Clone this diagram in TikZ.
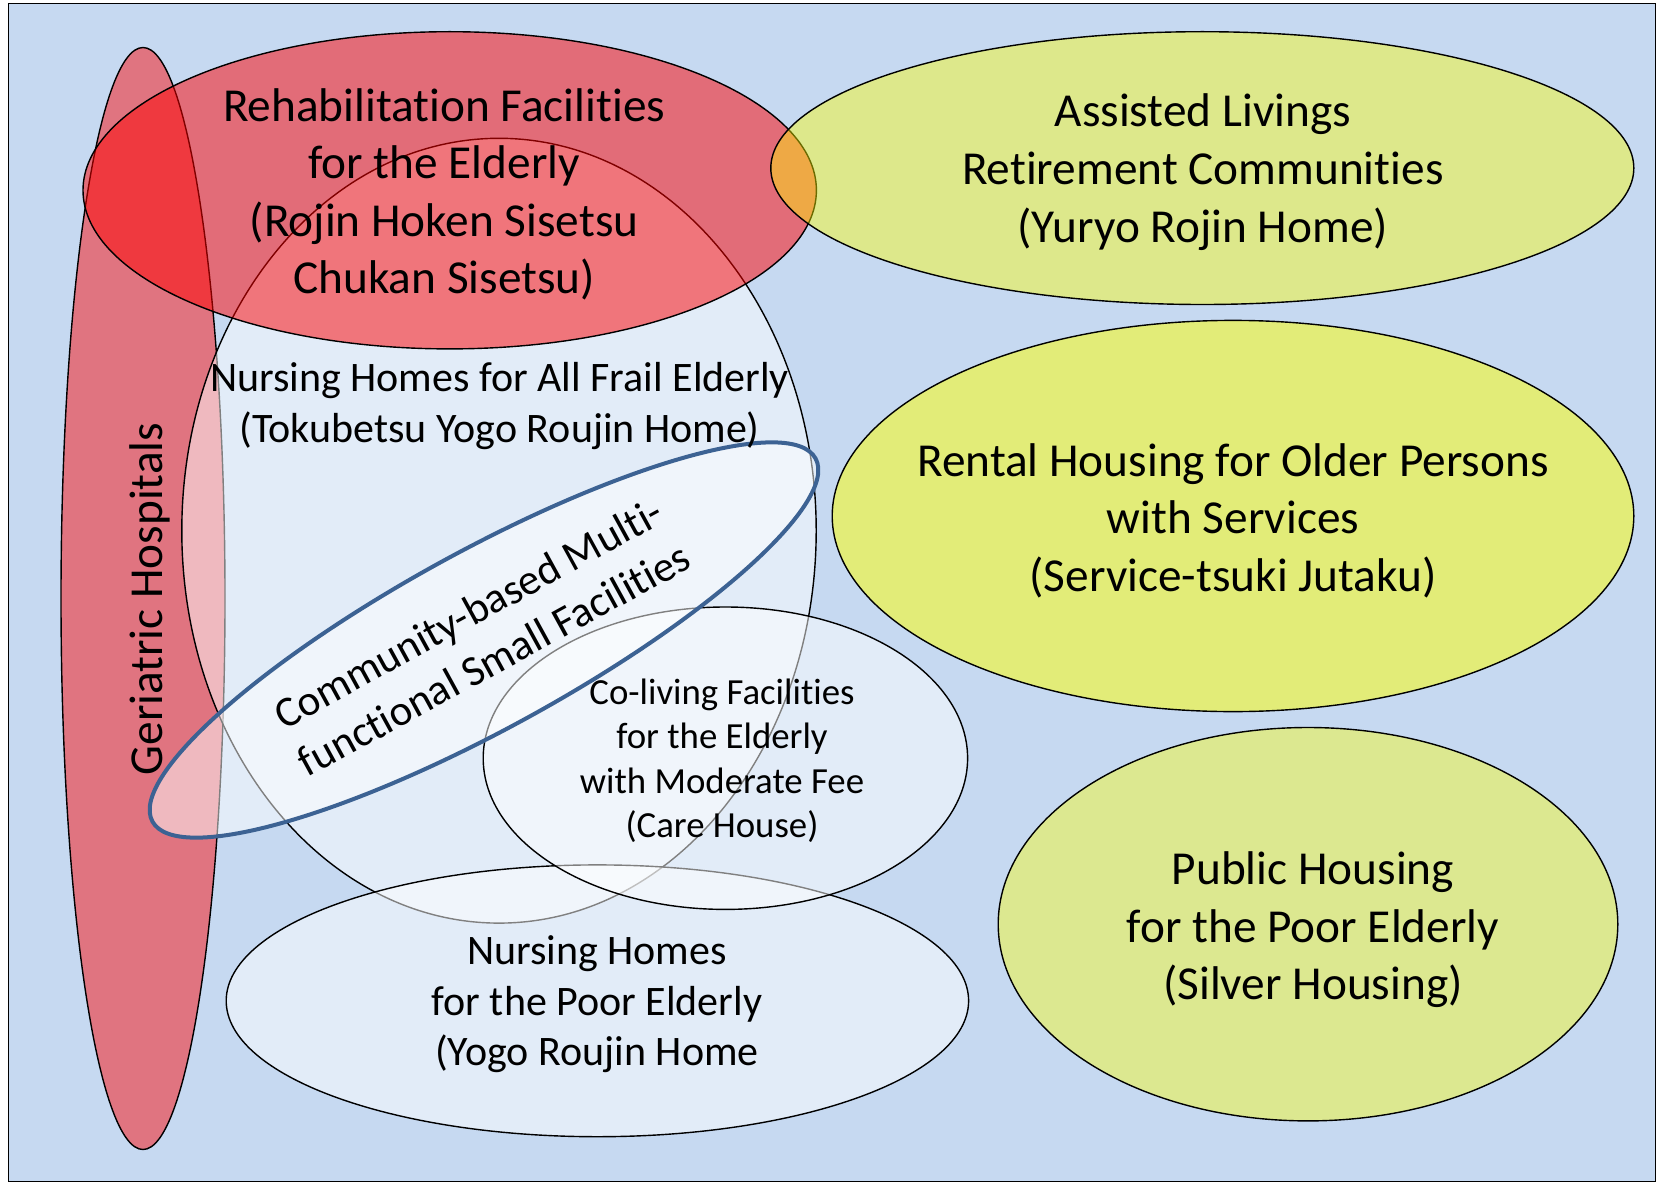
\documentclass[tikz,border=0pt]{standalone}
\usepackage{fontspec}
\setmainfont{Carlito}[Ligatures={NoCommon,NoRare,NoContextual}]
\usetikzlibrary{shapes.geometric}
\definecolor{bgblue}{RGB}{198,217,241}
\definecolor{gerred}{RGB}{250,16,16}
\definecolor{rehabred}{RGB}{255,0,0}
\definecolor{yel}{RGB}{255,255,0}
\definecolor{commblue}{RGB}{60,98,147}
\tikzset{
  blob/.style={ellipse, inner sep=0pt, outer sep=0pt, draw=black, line width=0.7pt},
  veil/.style={blob, fill=white, fill opacity=0.5},
  lbl/.style={align=center, inner sep=0pt, outer sep=0pt, text=black},
  bigtext/.style={lbl, font=\fontsize{23.65pt}{28.8pt}\selectfont},
  midtext/.style={lbl, font=\fontsize{21pt}{25.2pt}\selectfont},
  smalltext/.style={lbl, font=\fontsize{18.4pt}{22.2pt}\selectfont},
  commtext/.style={lbl, font=\fontsize{21.5pt}{26.6pt}\selectfont},
}
\begin{document}
\begin{tikzpicture}[x=0.5pt, y=-0.5pt]
\useasboundingbox (0,0) rectangle (1658,1182);
\fill[white] (0,0) rectangle (1658,1182);
\node[draw=black, fill=bgblue, line width=0.6pt, minimum width=823.5pt, minimum height=589pt, inner sep=0pt, anchor=north west] (frame) at (8,3) {};
% ellipses
\node[blob, fill=gerred, fill opacity=0.5, minimum width=82pt, minimum height=551pt] (ger) at (143,598.5) {};
\node[veil, minimum width=317.2pt, minimum height=392.4pt] (frail) at (499,530.7) {};
\node[blob, fill=rehabred, fill opacity=0.5, minimum width=366.7pt, minimum height=158.6pt] (rehab) at (449.7,190.3) {};
\node[veil, minimum width=371.2pt, minimum height=135.9pt] (poor) at (597.4,1000.8) {};
\node[veil, minimum width=242.2pt, minimum height=151.2pt] (care) at (725.4,758.2) {};
\node[blob, draw=commblue, line width=2pt, fill=white, fill opacity=0.5, rotate=28.7, minimum width=378pt, minimum height=89pt] (comm) at (484,640) {};
\node[blob, fill=yel, fill opacity=0.42, minimum width=431.5pt, minimum height=136.4pt] (assist) at (1202.3,168.1) {};
\node[blob, fill=yel, fill opacity=0.5, minimum width=400.8pt, minimum height=195.6pt] (rental) at (1233,516) {};
\node[blob, fill=yel, fill opacity=0.4, minimum width=309.8pt, minimum height=196.7pt] (public) at (1308,924.2) {};
% labels
\node[bigtext, rotate=90] (gerT) at (149.8,599) {Geriatric Hospitals};
\node[bigtext] (rehabT) at (444.2,194.3) {Rehabilitat\kern0pt ion Facilit\kern0pt ies\\for the Elderly\\(Rojin Hoken Sisetsu\\Chukan Sisetsu)};
\node[midtext] (frailT) at (499.6,406) {Nursing Homes for All Frail Elderly\\(Tokubetsu Yogo Roujin Home)};
\node[commtext, rotate=28.7] (commT) at (481,636) {Community-based Mult\kern0pt i-\\funct\kern0pt ional Small Facilit\kern0pt ies};
\node[smalltext] (careT) at (722,760.6) {Co-living Facilit\kern0pt ies\\for the Elderly\\with Moderate Fee\\(Care House)};
\node[midtext] (poorT) at (597,1004.3) {Nursing Homes\\for the Poor Elderly\\(Yogo Roujin Home};
\node[bigtext] (assistT) at (1202.8,172.2) {Assisted Livings\\Ret\kern0pt irement Communit\kern0pt ies\\(Yuryo Rojin Home)};
\node[bigtext] (rentalT) at (1233,520.5) {Rental Housing for Older Persons\\with Services\\(Service-tsuki Jutaku)};
\node[bigtext] (publicT) at (1313,930) {Public Housing\\for the Poor Elderly\\(Silver Housing)};
\end{tikzpicture}
\end{document}
